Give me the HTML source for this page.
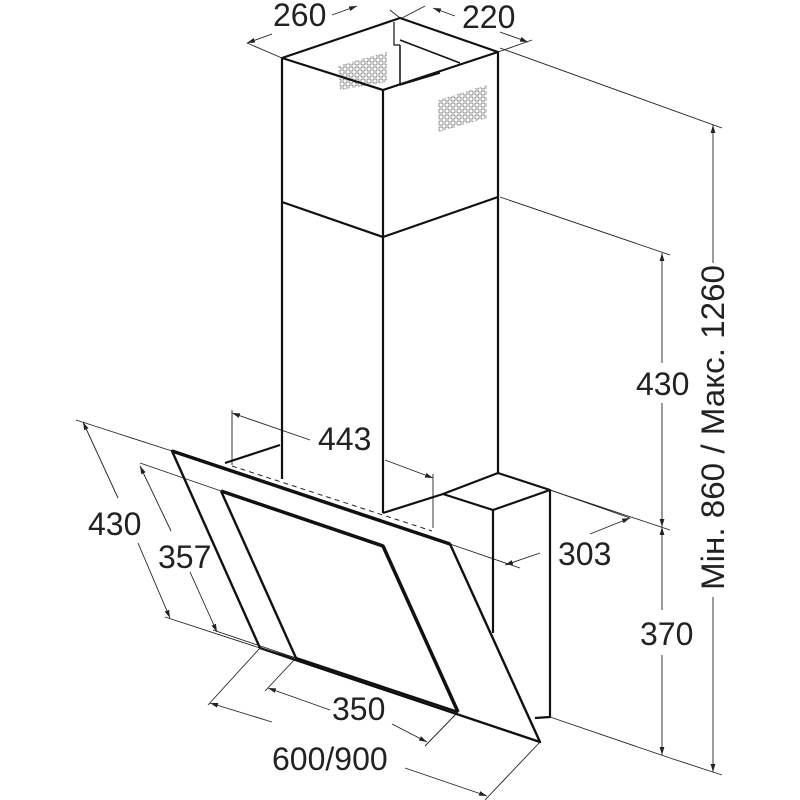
<!DOCTYPE html>
<html><head><meta charset="utf-8"><style>
html,body{margin:0;padding:0;background:#fff;width:800px;height:800px;overflow:hidden}
svg{display:block}
text{font-family:"Liberation Sans",sans-serif;fill:#222}
</style></head><body>
<svg width="800" height="800" viewBox="0 0 800 800" xmlns="http://www.w3.org/2000/svg">
<defs>
<marker id="a" viewBox="0 0 10 10" refX="10" refY="5" markerWidth="8" markerHeight="8" orient="auto-start-reverse" markerUnits="userSpaceOnUse"><path d="M0,2 L10,5 L0,8 z" fill="#222"/></marker>
<pattern id="mesh" width="6" height="6" patternUnits="userSpaceOnUse"><rect x="1" y="1" width="4" height="4" rx="0.8" fill="none" stroke="#666" stroke-width="0.7"/></pattern>
</defs>
<g fill="none" stroke="#222" stroke-width="0.9">
<line x1="500" y1="48" x2="722" y2="128"/>
<line x1="500" y1="197" x2="670" y2="255"/>
<line x1="550" y1="490" x2="670" y2="530"/>
<line x1="550" y1="717" x2="670" y2="758"/>
<line x1="670" y1="758" x2="722" y2="775"/>
<line x1="282" y1="58" x2="247" y2="43"/>
<line x1="498" y1="52" x2="532" y2="40"/>
<line x1="400" y1="18" x2="390" y2="10"/>
<line x1="402" y1="18" x2="425" y2="6"/>
<line x1="232" y1="410" x2="232" y2="465"/>
<line x1="433" y1="474" x2="433" y2="528"/>
<line x1="172" y1="451" x2="76" y2="420"/>
<line x1="221" y1="491" x2="140" y2="463"/>
<line x1="260" y1="648" x2="165" y2="617"/>
<line x1="296" y1="658" x2="213" y2="630"/>
<line x1="260" y1="648" x2="208" y2="705"/>
<line x1="296" y1="658" x2="265" y2="691"/>
<line x1="458" y1="712" x2="425" y2="746"/>
<line x1="540" y1="742" x2="485" y2="800"/>
<line x1="450" y1="544" x2="520" y2="568"/>
<line x1="550" y1="490" x2="630" y2="518"/>
<line x1="247" y1="43" x2="272" y2="34" marker-start="url(#a)"/>
<line x1="332" y1="15" x2="357" y2="6" marker-end="url(#a)"/>
<line x1="433" y1="8" x2="455" y2="16" marker-start="url(#a)"/>
<line x1="500" y1="32" x2="528" y2="42" marker-end="url(#a)"/>
<line x1="713" y1="125" x2="713" y2="263" marker-start="url(#a)"/>
<line x1="713" y1="597" x2="713" y2="772" marker-end="url(#a)"/>
<line x1="662" y1="253" x2="662" y2="363" marker-start="url(#a)"/>
<line x1="662" y1="403" x2="662" y2="527" marker-end="url(#a)"/>
<line x1="662" y1="527" x2="662" y2="610" marker-start="url(#a)"/>
<line x1="662" y1="655" x2="662" y2="755" marker-end="url(#a)"/>
<line x1="232" y1="413" x2="310" y2="440" marker-start="url(#a)"/>
<line x1="385" y1="460" x2="433" y2="478" marker-end="url(#a)"/>
<line x1="83" y1="422" x2="118" y2="498" marker-start="url(#a)"/>
<line x1="138" y1="543" x2="170" y2="618" marker-end="url(#a)"/>
<line x1="140" y1="466" x2="171" y2="531" marker-start="url(#a)"/>
<line x1="190" y1="572" x2="217" y2="632" marker-end="url(#a)"/>
<line x1="268" y1="688" x2="330" y2="710" marker-start="url(#a)"/>
<line x1="392" y1="724" x2="427" y2="742" marker-end="url(#a)"/>
<line x1="210" y1="703" x2="272" y2="722" marker-start="url(#a)"/>
<line x1="405" y1="768" x2="487" y2="796" marker-end="url(#a)"/>
<line x1="505" y1="565" x2="540" y2="553" marker-start="url(#a)"/>
<line x1="590" y1="534" x2="630" y2="518" marker-end="url(#a)"/>
</g>
<polygon points="438,100 487,85 487,118 438,132" fill="url(#mesh)"/>
<polygon points="338,66 387,52 387,82 340,90" fill="url(#mesh)"/>
<g fill="none" stroke="#111" stroke-width="2.2" stroke-linejoin="round">
<polyline points="282,202 282,58 400,18 498,52 498,197"/>
<polyline points="282,58 383,90 498,52"/>
<line x1="383" y1="90" x2="383" y2="237"/>
<polyline points="282,202 383,237 498,197" />
<polyline points="400,45 400,85" stroke-width="1.5"/>
<polyline points="400,40 460,63" stroke-width="1.5"/>
<polyline points="400,85 440,73" stroke-width="1.5"/>
<polyline points="394,22 394,45 400,45" stroke-width="1.2"/>
<line x1="282" y1="202" x2="282" y2="479"/>
<line x1="383" y1="237" x2="383" y2="513"/>
<line x1="498" y1="197" x2="498" y2="473"/>
<polyline points="383,513 443,494 493,510 550,490 498,473 443,494"/>
<line x1="493" y1="510" x2="493" y2="633"/>
<polyline points="550,490 550,717 535,718"/>
<polyline points="280,445 225,463"/>
<polygon points="172,451 450,544 540,742 260,648" stroke-width="2.4"/>
<line x1="172" y1="451" x2="450" y2="544" stroke-width="3.5"/>
<polyline points="221,491 383,546 458,712" stroke-width="3.5"/>
<polyline points="221,491 296,658 458,712" stroke-width="2.4"/>
</g>
<line x1="232" y1="466" x2="432" y2="531" stroke="#222" stroke-width="1" stroke-dasharray="5,4"/>
<line x1="260" y1="648" x2="296" y2="658" stroke="#222" stroke-width="1"/>
<g font-size="32">
<text x="273" y="26">260</text>
<text x="462" y="28">220</text>
<text x="318" y="450">443</text>
<text x="88" y="535">430</text>
<text x="158" y="568">357</text>
<text x="558" y="565">303</text>
<text x="332" y="720">350</text>
<text x="272" y="770">600/900</text>
<text x="636" y="395">430</text>
<text x="640" y="645">370</text>
<text transform="translate(724,590) rotate(-90)" textLength="325" lengthAdjust="spacingAndGlyphs">Мін. 860 / Макс. 1260</text>
</g>
</svg>
</body></html>
